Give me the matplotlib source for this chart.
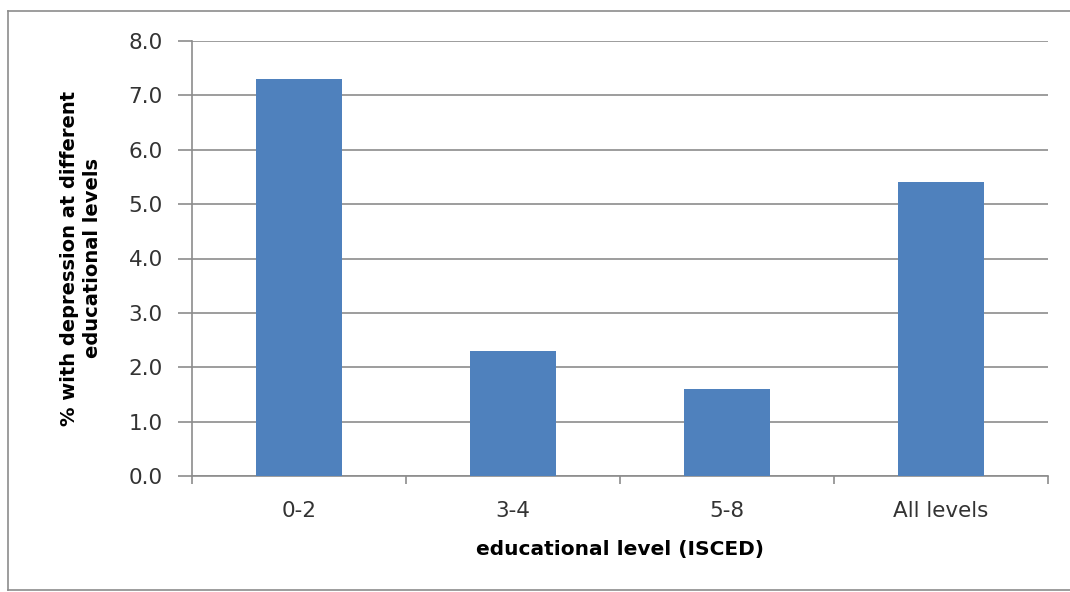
import matplotlib.pyplot as plt
from matplotlib.lines import Line2D

categories = ['0-2', '3-4', '5-8', 'All levels']
values = [7.3, 2.3, 1.6, 5.4]
y_ticks = [0, 1, 2, 3, 4, 5, 6, 7, 8]

plt.rcParams['font.family'] = ['DejaVu Sans']

fig = plt.figure(figsize=(10.7, 5.92), dpi=100)
ax = fig.add_axes([192 / 1070, 1 - 476 / 592, (1048 - 192) / 1070, (476 - 41) / 592])

# outer chart frame (top, left, bottom), open on the right
fx0, fy0, fy1 = 8 / 1070, 1 - 590 / 592, 1 - 11 / 592
for xs, ys in [([fx0, 1.0], [fy1, fy1]), ([fx0, fx0], [fy0, fy1]), ([fx0, 1.0], [fy0, fy0])]:
    fig.add_artist(Line2D(xs, ys, transform=fig.transFigure, color='#8c8c8c', linewidth=1.2))

x = range(len(categories))
ax.bar(x, values, width=0.4, color='#4f81bd', zorder=3)

ax.set_xlim(-0.5, len(categories) - 0.5)
ax.set_ylim(0, 8)
ax.set_yticks(y_ticks)
ax.set_yticklabels([f'{v:.1f}' for v in y_ticks], fontsize=15.5, color='#333333')
ax.yaxis.grid(True, color='#8c8c8c', linewidth=1.2, zorder=0)

ax.set_xticks([i - 0.5 for i in range(len(categories) + 1)], minor=False)
ax.set_xticklabels([])
ax.set_xticks(list(x), minor=True)
ax.set_xticklabels(categories, minor=True, fontsize=15.5, color='#333333')
ax.tick_params(axis='x', which='major', length=6, color='#8c8c8c', width=1.2, direction='out')
ax.tick_params(axis='x', which='minor', length=0, pad=18)
ax.tick_params(axis='y', length=10, color='#8c8c8c', width=1.2, pad=11)

for side in ['top', 'right']:
    ax.spines[side].set_visible(False)
for side in ['left', 'bottom']:
    ax.spines[side].set_color('#8c8c8c')
    ax.spines[side].set_linewidth(1.2)

ax.set_ylabel('% with depression at different\neducational levels', fontsize=14,
              fontweight='bold', linespacing=1.3, labelpad=19)
ax.set_xlabel('educational level (ISCED)', fontsize=14.5, fontweight='bold', labelpad=14)

fig.savefig('out.png', dpi=100)
